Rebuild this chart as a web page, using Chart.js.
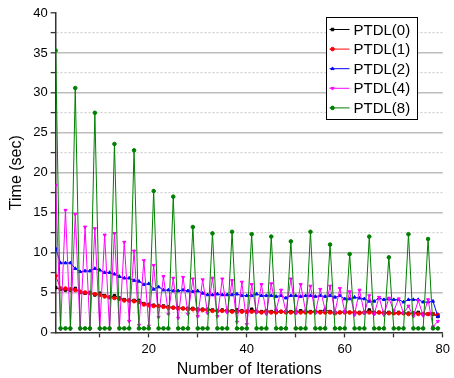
<!DOCTYPE html>
<html>
<head>
<meta charset="utf-8">
<script src="https://cdn.jsdelivr.net/npm/chart.js@4.4.0/dist/chart.umd.min.js"></script>
<style>
html, body { margin: 0; padding: 0; background: #fff; }
</style>
</head>
<body>
<canvas id="myChart" width="454" height="378"></canvas>
<script>
// iteration number (x axis)
var iterations = [1,2,3,4,5,6,7,8,9,10,11,12,13,14,15,16,17,18,19,20,
    21,22,23,24,25,26,27,28,29,30,31,32,33,34,35,36,37,38,39,40,
    41,42,43,44,45,46,47,48,49,50,51,52,53,54,55,56,57,58,59,60,
    61,62,63,64,65,66,67,68,69,70,71,72,73,74,75,76,77,78,79];

// time (sec) per iteration
var ptdl0 = [5.6,5.4,5.3,5.3,5.5,5.0,4.9,5.0,4.7,4.9,
    4.6,4.4,4.6,4.3,4.1,4.0,4.0,4.0,3.6,3.5,
    3.4,3.3,3.3,3.2,3.1,3.1,3.0,3.0,3.0,2.9,
    2.9,2.9,2.8,2.7,2.8,2.7,2.7,2.8,2.7,2.6,
    2.9,2.6,2.6,2.7,2.6,2.6,2.6,2.6,2.6,2.6,
    2.7,2.6,2.6,2.6,2.6,2.8,2.6,2.5,2.5,2.6,
    2.5,2.5,2.5,2.5,2.8,2.5,2.5,2.5,2.5,2.4,
    2.5,2.4,2.4,2.4,2.5,2.3,2.3,2.3,2.0];
var ptdl1 = [7.1,5.5,5.5,5.4,5.3,5.1,5.0,4.9,4.8,4.7,
    4.5,4.4,4.3,4.2,4.0,4.0,3.9,3.8,3.5,3.4,
    3.3,3.3,3.2,3.1,3.1,3.0,3.0,2.9,2.9,2.8,
    2.8,2.8,2.7,2.7,2.7,2.7,2.6,2.6,2.6,2.6,
    2.6,2.6,2.5,2.6,2.5,2.5,2.6,2.5,2.5,2.5,
    2.5,2.5,2.5,2.6,2.5,2.5,2.5,2.4,2.5,2.5,
    2.5,2.5,2.4,2.5,2.5,2.4,2.5,2.4,2.4,2.4,
    2.4,2.4,2.3,2.4,2.3,2.3,2.3,2.3,2.2];
var ptdl2 = [10.5,8.7,8.7,8.7,8.0,7.6,7.7,7.7,8.0,7.8,
    7.5,7.5,7.3,7.0,6.8,6.8,6.5,6.4,6.0,6.1,
    5.4,5.7,5.3,5.3,5.2,5.2,5.3,5.2,5.1,5.2,
    4.9,4.7,4.7,4.8,4.7,4.7,4.7,4.8,4.6,4.6,
    4.6,4.8,4.6,4.6,4.6,4.5,4.6,4.3,4.6,4.6,
    4.5,4.6,4.6,4.5,4.6,4.5,4.6,4.4,4.6,4.2,
    4.2,4.4,4.3,4.2,3.9,3.9,4.3,4.1,4.2,4.1,
    4.1,3.8,4.1,4.1,4.1,3.8,3.8,3.9,2.0];
var ptdl4 = [18.4,0.4,15.3,0.4,14.8,0.4,13.2,0.4,13.0,0.4,
    12.2,0.4,12.4,0.5,11.3,1.4,10.2,0.9,9.0,0.8,
    8.4,1.9,7.0,2.3,6.8,1.8,6.9,2.3,6.7,2.0,
    6.6,2.4,6.8,2.0,6.7,2.5,6.5,1.3,6.3,1.0,
    6.0,2.5,6.0,2.3,6.1,2.8,5.3,2.6,6.7,2.4,
    6.0,2.7,5.8,2.4,5.4,2.8,5.8,2.5,5.5,2.6,
    5.1,2.2,5.3,2.4,4.6,2.3,4.4,2.2,4.3,2.7,
    4.2,2.4,3.3,2.0,4.0,2.1,4.1,0.7,1.4];
var ptdl8 = [35.3,0.5,0.5,0.5, 30.6,0.5,0.5,0.5, 27.5,0.5,0.5,0.5,
    23.6,0.5,0.5,0.5, 22.8,0.5,0.5,0.5, 17.7,0.5,0.5,0.5,
    17.0,0.5,0.5,0.5, 13.2,0.5,0.5,0.5, 12.4,0.5,0.5,0.5,
    12.6,0.5,0.5,0.5, 12.3,0.5,0.5,0.5, 12.0,0.5,0.5,0.5,
    11.4,0.5,0.5,0.5, 12.6,0.5,0.5,0.5, 11.0,0.5,0.5,0.5,
    9.8,0.5,0.5,0.5, 12.0,0.5,0.5,0.5, 9.4,0.5,0.5,0.5,
    12.3,0.5,0.5,0.5, 11.7,0.5,0.5];

var yTicks = [0, 5, 10, 15, 20, 25, 30, 35, 40];
var xTicks = [20, 40, 60, 80];

var fontFam = '"Liberation Sans", Arial, sans-serif';
var axisCol = '#333333';

function pts(arr) {
    return arr.map(function (v, i) { return { x: iterations[i], y: v }; });
}

function series(label, arr, color, style, rot, order) {
    return {
        label: label,
        data: pts(arr),
        borderColor: color,
        backgroundColor: color,
        borderWidth: 1,
        pointStyle: style,
        pointRotation: rot,
        pointRadius: 1.8,
        pointBorderWidth: 1,
        pointHoverRadius: 1.8,
        tension: 0,
        order: order
    };
}

// legend box in the upper right corner
var boxLegend = {
    id: 'boxLegend',
    afterDraw: function (chart) {
        var ctx = chart.ctx;
        var x0 = 326.5, y0 = 17.5, w = 91, h = 102;
        ctx.save();
        ctx.fillStyle = '#ffffff';
        ctx.fillRect(x0, y0, w, h);
        ctx.strokeStyle = '#000000';
        ctx.lineWidth = 1;
        ctx.strokeRect(x0, y0, w, h);
        ctx.font = '15px ' + fontFam;
        ctx.textBaseline = 'middle';
        chart.data.datasets.forEach(function (ds, i) {
            var y = 29.5 + i * 19.6;
            ctx.strokeStyle = ds.borderColor;
            ctx.fillStyle = ds.backgroundColor;
            ctx.lineWidth = 1;
            ctx.beginPath();
            ctx.moveTo(x0 + 3, y);
            ctx.lineTo(x0 + 23, y);
            ctx.stroke();
            Chart.helpers.drawPoint(ctx, {
                pointStyle: ds.pointStyle, radius: 1.8,
                rotation: ds.pointRotation, borderWidth: 1
            }, x0 + 6, y);
            ctx.fillStyle = '#000000';
            ctx.fillText(ds.label, x0 + 27, y + 1);
        });
        ctx.restore();
    }
};

var ctx = document.getElementById('myChart');
var myChart = new Chart(ctx, {
    type: 'line',
    data: {
        datasets: [
            series('PTDL(0)', ptdl0, '#000000', 'rect', 0, 5),
            series('PTDL(1)', ptdl1, '#ff0000', 'circle', 0, 4),
            series('PTDL(2)', ptdl2, '#0000ff', 'triangle', 0, 3),
            series('PTDL(4)', ptdl4, '#ff00ff', 'triangle', 180, 2),
            series('PTDL(8)', ptdl8, '#008000', 'circle', 0, 1)
        ]
    },
    options: {
        responsive: false,
        animation: false,
        layout: { padding: { left: 7, right: 7, top: 13, bottom: 0 } },
        plugins: {
            legend: { display: false },
            tooltip: { enabled: false }
        },
        scales: {
            x: {
                type: 'linear',
                min: 1,
                max: 80,
                ticks: {
                    stepSize: 10,
                    includeBounds: false,
                    autoSkip: false,
                    maxRotation: 0,
                    color: '#000000',
                    padding: 4,
                    font: { family: fontFam, size: 13 },
                    callback: function (v) { return xTicks.indexOf(v) >= 0 ? String(v) : ''; }
                },
                grid: {
                    drawOnChartArea: false,
                    drawTicks: true,
                    tickLength: 5,
                    tickColor: axisCol,
                    tickWidth: 1.3
                },
                border: { display: true, color: axisCol, width: 1.5 },
                title: {
                    display: true,
                    text: 'Number of Iterations',
                    color: '#000000',
                    font: { family: fontFam, size: 16, lineHeight: 1 },
                    padding: { top: 1, bottom: 0 }
                }
            },
            y: {
                min: 0,
                max: 40,
                ticks: {
                    stepSize: 2.5,
                    autoSkip: false,
                    color: '#000000',
                    padding: 3,
                    font: { family: fontFam, size: 13 },
                    callback: function (v) { return yTicks.indexOf(v) >= 0 ? String(v) : ''; }
                },
                grid: {
                    drawTicks: true,
                    tickLength: 5,
                    tickColor: axisCol,
                    tickWidth: 1.3,
                    color: function (c) {
                        var v = c.tick ? c.tick.value : 0;
                        if (v === 0 || v === 40) return 'rgba(0,0,0,0)';
                        return v % 5 === 0 ? '#bdbdbd' : '#cfcfcf';
                    },
                    lineWidth: function (c) {
                        var v = c.tick ? c.tick.value : 0;
                        return v % 5 === 0 ? 1.6 : 1.2;
                    }
                },
                border: {
                    display: true,
                    color: axisCol,
                    width: 1.5,
                    dash: function (c) {
                        if (!c.tick) return [];
                        return c.tick.value % 5 === 0 ? [] : [2, 2];
                    }
                },
                title: {
                    display: true,
                    text: 'Time (sec)',
                    color: '#000000',
                    font: { family: fontFam, size: 16 },
                    padding: { top: 0, bottom: 4 }
                }
            }
        }
    },
    plugins: [boxLegend]
});
</script>
</body>
</html>
